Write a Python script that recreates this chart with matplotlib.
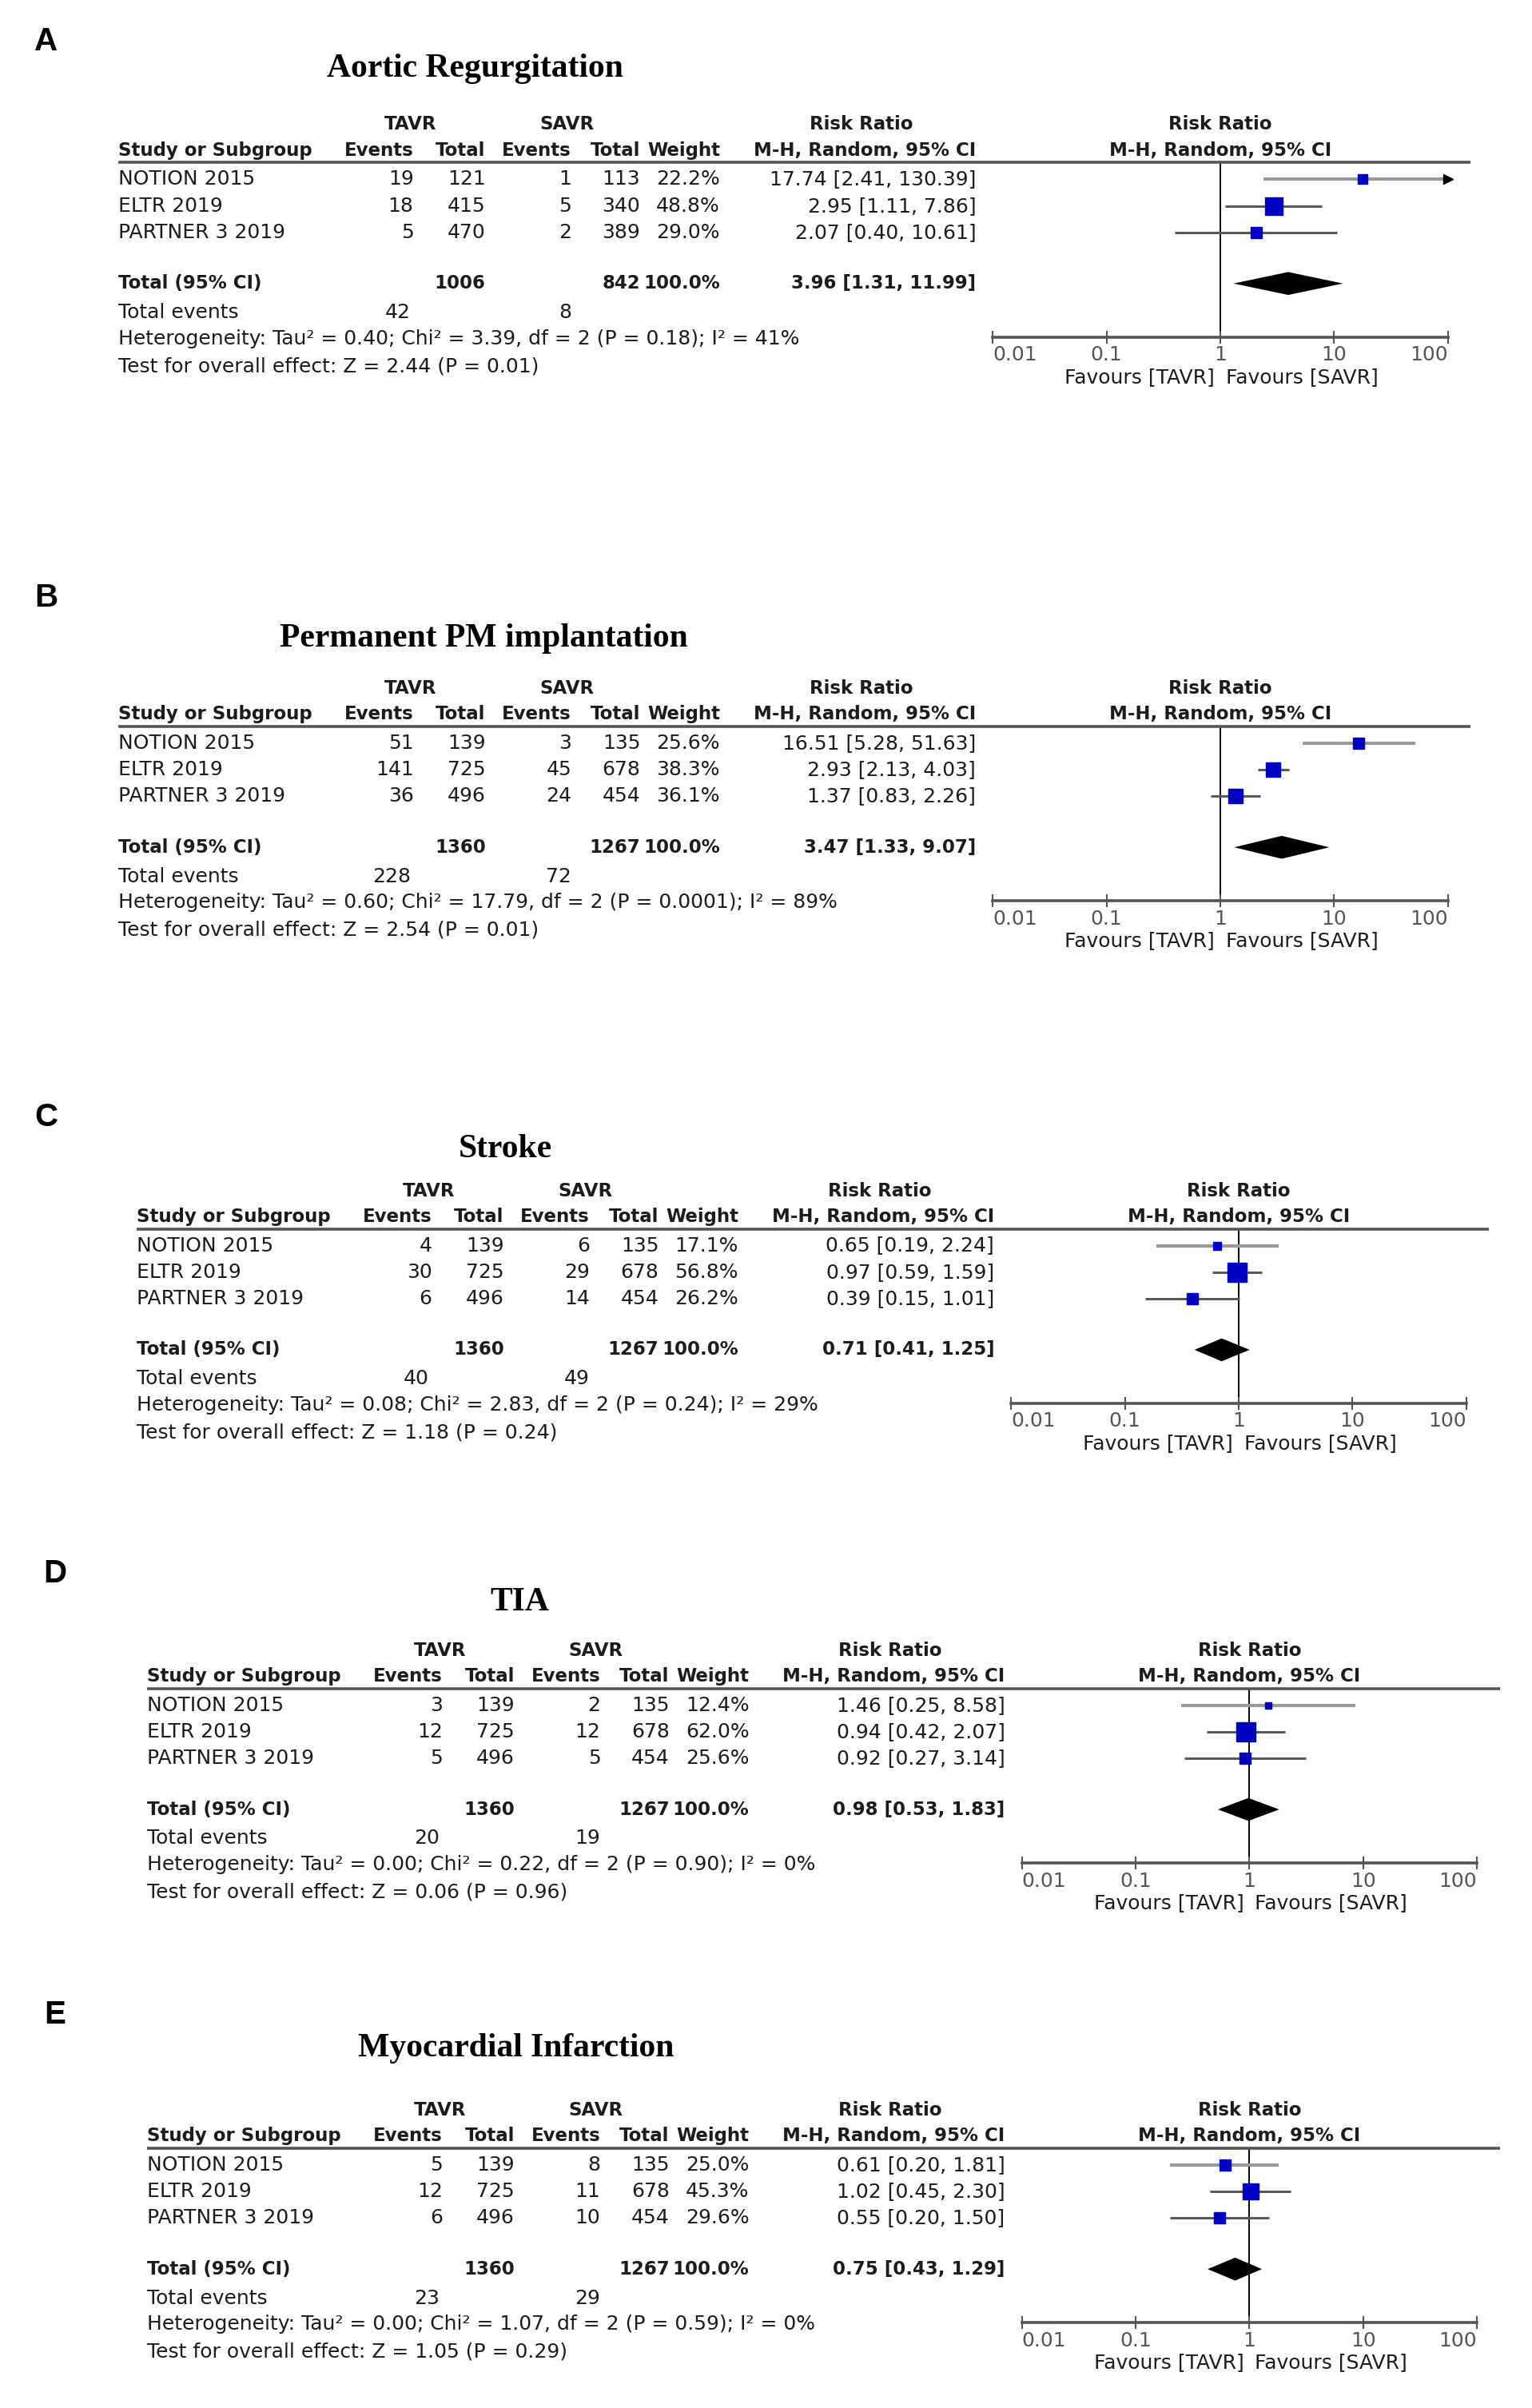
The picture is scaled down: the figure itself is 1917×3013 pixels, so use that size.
import matplotlib
matplotlib.use("Agg")
import matplotlib.pyplot as plt
from matplotlib.ticker import NullLocator
from matplotlib.transforms import blended_transform_factory

# ---- data ----
letters = ["A", "B", "C", "D", "E"]
titles = ["Aortic Regurgitation", "Permanent PM implantation", "Stroke", "TIA",
          "Myocardial Infarction"]
studies = ["NOTION 2015", "ELTR 2019", "PARTNER 3 2019"]

tavr_events = [[19, 18, 5], [51, 141, 36], [4, 30, 6], [3, 12, 5], [5, 12, 6]]
tavr_total = [[121, 415, 470], [139, 725, 496], [139, 725, 496], [139, 725, 496], [139, 725, 496]]
savr_events = [[1, 5, 2], [3, 45, 24], [6, 29, 14], [2, 12, 5], [8, 11, 10]]
savr_total = [[113, 340, 389], [135, 678, 454], [135, 678, 454], [135, 678, 454], [135, 678, 454]]
weights = [[22.2, 48.8, 29.0], [25.6, 38.3, 36.1], [17.1, 56.8, 26.2], [12.4, 62.0, 25.6],
           [25.0, 45.3, 29.6]]
rr = [[17.74, 2.95, 2.07], [16.51, 2.93, 1.37], [0.65, 0.97, 0.39], [1.46, 0.94, 0.92],
      [0.61, 1.02, 0.55]]
rr_lo = [[2.41, 1.11, 0.40], [5.28, 2.13, 0.83], [0.19, 0.59, 0.15], [0.25, 0.42, 0.27],
         [0.20, 0.45, 0.20]]
rr_hi = [[130.39, 7.86, 10.61], [51.63, 4.03, 2.26], [2.24, 1.59, 1.01], [8.58, 2.07, 3.14],
         [1.81, 2.30, 1.50]]

sum_tavr_n = [1006, 1360, 1360, 1360, 1360]
sum_savr_n = [842, 1267, 1267, 1267, 1267]
sum_tavr_events = [42, 228, 40, 20, 23]
sum_savr_events = [8, 72, 49, 19, 29]
sum_rr = [3.96, 3.47, 0.71, 0.98, 0.75]
sum_lo = [1.31, 1.33, 0.41, 0.53, 0.43]
sum_hi = [11.99, 9.07, 1.25, 1.83, 1.29]

tau2 = [0.40, 0.60, 0.08, 0.00, 0.00]
chi2 = [3.39, 17.79, 2.83, 0.22, 1.07]
het_p = ["0.18", "0.0001", "0.24", "0.90", "0.59"]
i2 = [41, 89, 29, 0, 0]
z_val = [2.44, 2.54, 1.18, 0.06, 1.05]
z_p = ["0.01", "0.01", "0.24", "0.96", "0.29"]

ticks = [0.01, 0.1, 1, 10, 100]
tick_labels = ["0.01", "0.1", "1", "10", "100"]

# ---- layout (reference measured on a 1000 x 1571.7 grid) ----
W, H = 1000.0, 1571.7
panel_dx = [0, 0, 12, 19, 19]
panel_dy = [0, 368, 696, 996, 1296]
letter_pos = [(30, 27), (30, 390), (30, 729), (36, 1027), (36, 1315)]
title_pos = [(310, 45), (316, 417), (330, 750), (339, 1046), (337, 1337)]
ROW = 17.4        # row height
FIRST = 117       # first study row (panel A)
TOP, BOTTOM = -0.63, 5.92
Y_TOT = 3.91
Y_HEAD1, Y_HEAD2 = -2.05, -1.08

FS = 18
FSB = 16.5
TXT = "#1c1c1c"
BLUE = "#0000c4"

plt.rcParams["font.family"] = "DejaVu Sans"


def fx(x):
    return x / W


def fy(y):
    return 1 - y / H


fig = plt.figure(figsize=(19.17, 30.13), dpi=100)

for k in range(5):
    dx, dy = panel_dx[k], panel_dy[k]
    y0 = FIRST + dy
    top_px = y0 + TOP * ROW
    bot_px = y0 + BOTTOM * ROW

    fig.text(fx(letter_pos[k][0]), fy(letter_pos[k][1]), letters[k], fontsize=29,
             fontweight="bold", family="Liberation Sans", ha="center", va="center")
    fig.text(fx(title_pos[k][0]), fy(title_pos[k][1]), titles[k], fontsize=30,
             fontweight="bold", family="Liberation Serif", ha="center", va="center")

    ax = fig.add_axes([fx(648 + dx), fy(bot_px), (945 - 648) / W, (bot_px - top_px) / H])
    ax.patch.set_alpha(0)
    ax.set_xscale("log")
    blend = blended_transform_factory(fig.transFigure, ax.transData)

    def put(x, y, s, ha="right", bold=False):
        ax.text(fx(x + dx), y, s, transform=blend, ha=ha, va="center",
                fontsize=FSB if bold else FS,
                fontweight="bold" if bold else "normal", color=TXT, clip_on=False)

    # header
    put(268, Y_HEAD1, "TAVR", ha="center", bold=True)
    put(370, Y_HEAD1, "SAVR", ha="center", bold=True)
    put(562, Y_HEAD1, "Risk Ratio", ha="center", bold=True)
    put(77, Y_HEAD2, "Study or Subgroup", ha="left", bold=True)
    put(270, Y_HEAD2, "Events", bold=True)
    put(317, Y_HEAD2, "Total", bold=True)
    put(373, Y_HEAD2, "Events", bold=True)
    put(418, Y_HEAD2, "Total", bold=True)
    put(470, Y_HEAD2, "Weight", bold=True)
    put(637, Y_HEAD2, "M-H, Random, 95% CI", bold=True)
    ax.text(1, Y_HEAD1, "Risk Ratio", ha="center", va="center", fontsize=FSB,
            fontweight="bold", color=TXT, clip_on=False)
    ax.text(1, Y_HEAD2, "M-H, Random, 95% CI", ha="center", va="center", fontsize=FSB,
            fontweight="bold", color=TXT, clip_on=False)
    ax.plot([fx(77 + dx), fx(960 + dx)], [TOP, TOP], transform=blend, color="#555555",
            lw=2.6, clip_on=False, solid_capstyle="butt")

    # study rows
    for i, name in enumerate(studies):
        put(77, i, name, ha="left")
        put(270, i, str(tavr_events[k][i]))
        put(317, i, str(tavr_total[k][i]))
        put(373, i, str(savr_events[k][i]))
        put(418, i, str(savr_total[k][i]))
        put(470, i, f"{weights[k][i]:.1f}%")
        put(637, i, f"{rr[k][i]:.2f} [{rr_lo[k][i]:.2f}, {rr_hi[k][i]:.2f}]")

        lo = max(rr_lo[k][i], ticks[0])
        hi = min(rr_hi[k][i], ticks[-1])
        ci_col = "#9a9a9a" if i == 0 else "#5a5a5a"
        ax.plot([lo, hi], [i, i], color=ci_col, lw=3.0 if i == 0 else 2.2,
                solid_capstyle="butt", zorder=2)
        if rr_hi[k][i] > ticks[-1]:
            ax.plot(ticks[-1], i, marker=">", ms=8, color="black", clip_on=False, zorder=3)
        ax.plot(rr[k][i], i, marker="s", ms=1.0 * weights[k][i] ** 0.7, color=BLUE,
                mec=BLUE, zorder=4)

    # total
    put(77, Y_TOT, "Total (95% CI)", ha="left", bold=True)
    put(317, Y_TOT, str(sum_tavr_n[k]), bold=True)
    put(418, Y_TOT, str(sum_savr_n[k]), bold=True)
    put(470, Y_TOT, "100.0%", bold=True)
    put(637, Y_TOT, f"{sum_rr[k]:.2f} [{sum_lo[k]:.2f}, {sum_hi[k]:.2f}]", bold=True)
    ax.fill([sum_lo[k], sum_rr[k], sum_hi[k], sum_rr[k]],
            [Y_TOT, Y_TOT - 0.43, Y_TOT, Y_TOT + 0.43], color="black", lw=0, zorder=4)

    put(77, 5.0, "Total events", ha="left")
    put(268, 5.0, str(sum_tavr_events[k]))
    put(373, 5.0, str(sum_savr_events[k]))
    put(77, 5.98, f"Heterogeneity: Tau\u00b2 = {tau2[k]:.2f}; Chi\u00b2 = {chi2[k]:.2f}, "
                  f"df = 2 (P = {het_p[k]}); I\u00b2 = {i2[k]}%", ha="left")
    put(77, 7.01, f"Test for overall effect: Z = {z_val[k]:.2f} (P = {z_p[k]})", ha="left")

    # forest axis
    ax.axvline(1, color="black", lw=1.4, zorder=1)
    ax.set_xlim(ticks[0], ticks[-1])
    ax.set_ylim(BOTTOM, TOP)
    for side in ["top", "left", "right"]:
        ax.spines[side].set_visible(False)
    ax.spines["bottom"].set_color("#555555")
    ax.spines["bottom"].set_linewidth(2.6)
    ax.set_yticks([])
    ax.set_xticks(ticks)
    ax.set_xticklabels(tick_labels)
    ax.xaxis.set_minor_locator(NullLocator())
    ax.tick_params(axis="x", direction="inout", length=11, width=1.5, color="#555555",
                   labelsize=FS, labelcolor="#555555", pad=2)
    tl = ax.get_xticklabels()
    tl[0].set_horizontalalignment("left")
    tl[-1].set_horizontalalignment("right")
    ax.annotate("Favours [TAVR]", xy=(1, 0), xycoords=("data", "axes fraction"),
                xytext=(-5, -36), textcoords="offset points", ha="right", va="center",
                fontsize=FS, color=TXT)
    ax.annotate("Favours [SAVR]", xy=(1, 0), xycoords=("data", "axes fraction"),
                xytext=(5, -36), textcoords="offset points", ha="left", va="center",
                fontsize=FS, color=TXT)

fig.savefig("out.png", dpi=100, facecolor="white")
